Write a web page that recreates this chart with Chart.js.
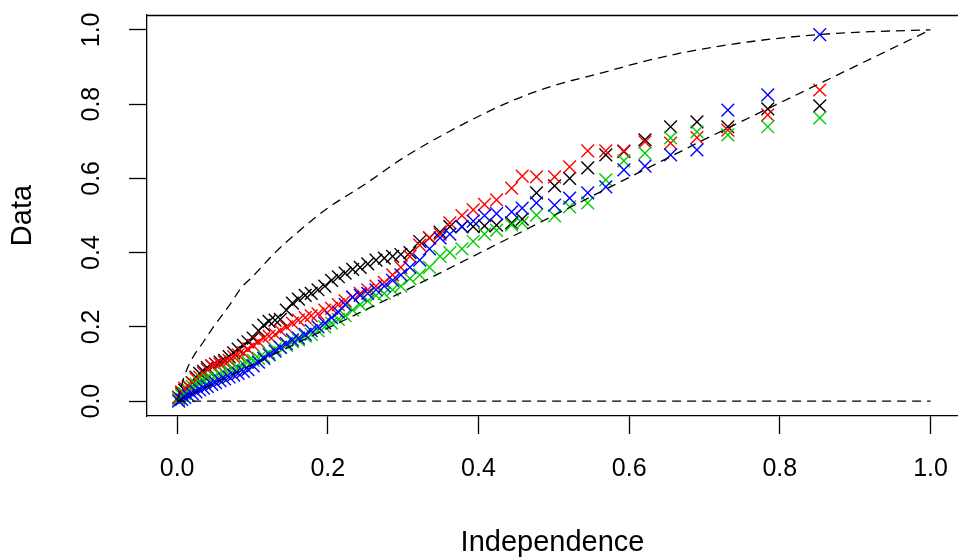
<!DOCTYPE html>
<html>
<head>
<meta charset="utf-8">
<title>Independence vs Data</title>
<script src="https://cdn.jsdelivr.net/npm/chart.js@4.4.1/dist/chart.umd.min.js"></script>
<style>
  html, body { margin: 0; padding: 0; background: #fff; }
  #chart { display: block; }
</style>
</head>
<body>
<canvas id="chart" width="958" height="560"></canvas>
<script>
// shared x positions of the scatter columns
const xValues = [
  0.002, 0.006, 0.010, 0.015, 0.020, 0.025, 0.030, 0.035, 0.040, 0.046,
  0.051, 0.057, 0.063, 0.069, 0.075, 0.081, 0.088, 0.094, 0.101, 0.108,
  0.115, 0.122, 0.130, 0.137, 0.145, 0.153, 0.161, 0.170, 0.178, 0.187,
  0.196, 0.205, 0.214, 0.223, 0.233, 0.243, 0.253, 0.264, 0.275, 0.286,
  0.297, 0.309, 0.322, 0.335, 0.349, 0.362, 0.378, 0.393, 0.408, 0.424,
  0.444, 0.458, 0.477, 0.501, 0.521, 0.545, 0.569, 0.593, 0.621, 0.655,
  0.690, 0.731, 0.784, 0.853
];

const blackValues = [
  0.01, 0.02, 0.03, 0.04, 0.05, 0.065, 0.075, 0.08, 0.09, 0.095,
  0.10, 0.105, 0.11, 0.12, 0.13, 0.14, 0.15, 0.16, 0.17, 0.19,
  0.205, 0.215, 0.218, 0.22, 0.245, 0.264, 0.275, 0.285, 0.29, 0.30,
  0.31, 0.325, 0.335, 0.345, 0.355, 0.36, 0.37, 0.38, 0.385, 0.39,
  0.395, 0.40, 0.43, 0.44, 0.455, 0.47, 0.47, 0.47, 0.472, 0.474,
  0.48, 0.49, 0.561, 0.58, 0.60, 0.628, 0.663, 0.672, 0.704, 0.739,
  0.752, 0.739, 0.787, 0.795
];

const redValues = [
  0.01, 0.025, 0.035, 0.04, 0.05, 0.06, 0.065, 0.075, 0.085, 0.095,
  0.10, 0.10, 0.105, 0.11, 0.12, 0.125, 0.13, 0.14, 0.15, 0.16,
  0.17, 0.175, 0.18, 0.19, 0.20, 0.21, 0.218, 0.225, 0.23, 0.235,
  0.245, 0.25, 0.26, 0.27, 0.28, 0.29, 0.30, 0.31, 0.32, 0.34,
  0.36, 0.39, 0.42, 0.44, 0.45, 0.48, 0.50, 0.515, 0.53, 0.542,
  0.574, 0.606, 0.604, 0.604, 0.631, 0.674, 0.674, 0.674, 0.698, 0.695,
  0.71, 0.73, 0.771, 0.838
];

const greenValues = [
  0.005, 0.015, 0.02, 0.03, 0.04, 0.045, 0.05, 0.055, 0.06, 0.06,
  0.065, 0.07, 0.075, 0.08, 0.085, 0.09, 0.10, 0.105, 0.11, 0.115,
  0.12, 0.13, 0.14, 0.145, 0.15, 0.16, 0.165, 0.175, 0.18, 0.19,
  0.20, 0.21, 0.22, 0.23, 0.245, 0.26, 0.27, 0.285, 0.29, 0.30,
  0.31, 0.33, 0.34, 0.36, 0.39, 0.40, 0.41, 0.43, 0.45, 0.46,
  0.475, 0.48, 0.501, 0.499, 0.523, 0.534, 0.596, 0.647, 0.668, 0.709,
  0.725, 0.717, 0.739, 0.763
];

const blueValues = [
  0.0, 0.005, 0.01, 0.015, 0.02, 0.025, 0.03, 0.035, 0.04, 0.045,
  0.05, 0.055, 0.06, 0.065, 0.07, 0.075, 0.08, 0.085, 0.095, 0.105,
  0.115, 0.125, 0.135, 0.145, 0.155, 0.165, 0.17, 0.18, 0.19, 0.20,
  0.21, 0.225, 0.24, 0.26, 0.28, 0.285, 0.29, 0.30, 0.31, 0.325,
  0.34, 0.36, 0.38, 0.41, 0.44, 0.45, 0.47, 0.485, 0.50, 0.505,
  0.51, 0.52, 0.534, 0.528, 0.547, 0.561, 0.577, 0.623, 0.633, 0.663,
  0.677, 0.784, 0.825, 0.987
];

// dashed reference curves
const upperX = [0, 0.01, 0.02, 0.035, 0.05, 0.07, 0.085, 0.1, 0.13, 0.16, 0.2, 0.25, 0.3, 0.36, 0.44, 0.5, 0.56, 0.62, 0.67, 0.76, 0.85, 0.92, 1];
const upperY = [0, 0.07, 0.115, 0.16, 0.205, 0.26, 0.305, 0.335, 0.40, 0.455, 0.52, 0.585, 0.655, 0.725, 0.805, 0.85, 0.882, 0.915, 0.938, 0.968, 0.987, 0.995, 1];
const lowerX = [0, 0.3, 0.5, 0.7, 1];
const lowerY = [0, 0.295, 0.5, 0.705, 1];
const zeroX = [0, 1];
const zeroY = [0, 0];

const tickValues = [0, 0.2, 0.4, 0.6, 0.8, 1.0];
const tickLabels = ['0.0', '0.2', '0.4', '0.6', '0.8', '1.0'];

const FONT = "'Liberation Sans', Arial, sans-serif";

function toPoints(xs, ys) {
  return xs.map((x, i) => ({ x: x, y: ys[i] }));
}

function scatterSet(label, values, color, order) {
  return {
    label: label,
    data: toPoints(xValues, values),
    showLine: false,
    pointStyle: 'crossRot',
    pointRadius: 9,
    pointHoverRadius: 9,
    pointBorderWidth: 1.4,
    borderColor: color,
    backgroundColor: color,
    order: order
  };
}

function dashedSet(label, xs, ys, smooth) {
  return {
    label: label,
    data: toPoints(xs, ys),
    showLine: true,
    pointRadius: 0,
    borderColor: '#000',
    borderWidth: 1.3,
    borderDash: [9, 6],
    cubicInterpolationMode: smooth ? 'monotone' : 'default',
    fill: false,
    order: 0
  };
}

// R draws a box around the plot; only the top edge is missing from the axes
const boxTop = {
  id: 'boxTop',
  afterDraw(chart) {
    const { ctx, chartArea } = chart;
    ctx.save();
    ctx.strokeStyle = '#000';
    ctx.lineWidth = 1.3;
    ctx.beginPath();
    ctx.moveTo(chartArea.left, chartArea.top + 0.5);
    ctx.lineTo(chartArea.right, chartArea.top + 0.5);
    ctx.stroke();
    ctx.restore();
  }
};

function setTicks(scale) {
  scale.ticks = tickValues.map((v) => ({ value: v }));
}

// no label overhang padding, so the plot box sits where R puts it
function noPadding(scale) {
  scale.paddingTop = 0;
  scale.paddingBottom = 0;
  scale.paddingLeft = 0;
  scale.paddingRight = 0;
}

new Chart(document.getElementById('chart'), {
  type: 'scatter',
  data: {
    datasets: [
      dashedSet('upper', upperX, upperY, true),
      dashedSet('diagonal', lowerX, lowerY, false),
      dashedSet('zero', zeroX, zeroY, false),
      scatterSet('blue', blueValues, '#0000FF', 1),
      scatterSet('green', greenValues, '#00CD00', 2),
      scatterSet('red', redValues, '#FF0000', 3),
      scatterSet('black', blackValues, '#000000', 4)
    ]
  },
  options: {
    responsive: false,
    devicePixelRatio: 1,
    animation: false,
    layout: { autoPadding: false, padding: { top: 15, right: 0, bottom: 0, left: 0 } },
    plugins: {
      legend: { display: false },
      tooltip: { enabled: false }
    },
    scales: {
      x: {
        type: 'linear',
        min: -0.04,
        max: 1.0365,
        afterBuildTicks: setTicks,
        afterFit: (s) => { s.height = 144; noPadding(s); },
        grid: { drawOnChartArea: false, tickLength: 18, tickColor: '#000', tickWidth: 1.3 },
        border: { display: true, color: '#000', width: 1.3 },
        ticks: {
          autoSkip: false,
          maxRotation: 0,
          padding: 20,
          color: '#000',
          font: { family: FONT, size: 25 },
          callback: (v, i) => tickLabels[i]
        },
        title: {
          display: true,
          text: 'Independence',
          color: '#000',
          font: { family: FONT, size: 29 },
          padding: { top: 0, bottom: 0 }
        }
      },
      y: {
        type: 'linear',
        min: -0.04,
        max: 1.04,
        afterBuildTicks: setTicks,
        afterFit: (s) => { s.width = 147; noPadding(s); },
        grid: { drawOnChartArea: false, tickLength: 18, tickColor: '#000', tickWidth: 1.3 },
        border: { display: true, color: '#000', width: 1.3 },
        ticks: {
          autoSkip: false,
          minRotation: 90,
          maxRotation: 90,
          crossAlign: 'center',
          padding: 20,
          color: '#000',
          font: { family: FONT, size: 25 },
          callback: (v, i) => tickLabels[i]
        },
        title: {
          display: true,
          text: 'Data',
          color: '#000',
          font: { family: FONT, size: 29 },
          padding: { top: 6, bottom: 0 }
        }
      }
    }
  },
  plugins: [boxTop]
});
</script>
</body>
</html>
